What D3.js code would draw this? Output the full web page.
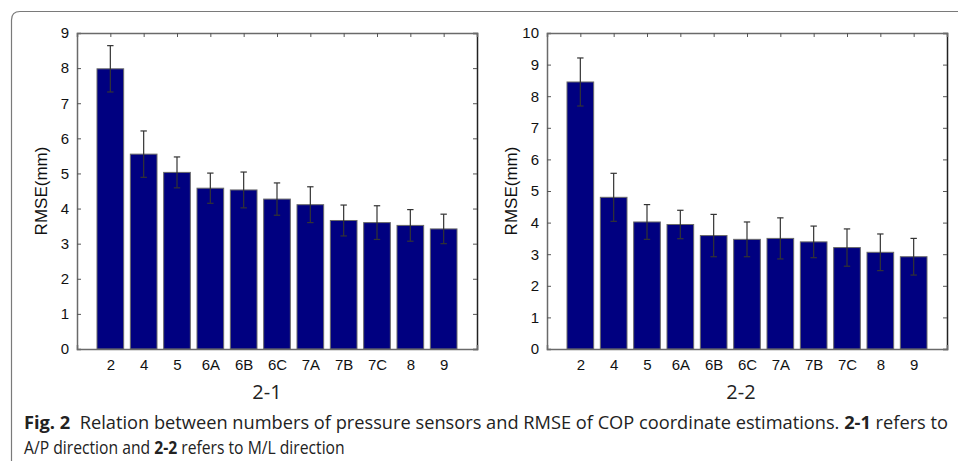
<!DOCTYPE html>
<html>
<head>
<meta charset="utf-8">
<script src="https://cdn.jsdelivr.net/npm/d3@7"></script>
<style>
  html, body { margin: 0; padding: 0; background: #fff; }
  svg { display: block; }
</style>
</head>
<body>
<svg id="chart" width="958" height="461"></svg>
<script>
// ---------- data ----------
const categories = ["2", "4", "5", "6A", "6B", "6C", "7A", "7B", "7C", "8", "9"];
const apValues = [7.98, 5.55, 5.03, 4.58, 4.53, 4.27, 4.11, 3.66, 3.60, 3.52, 3.42];
const apErrors = [0.66, 0.66, 0.44, 0.43, 0.51, 0.46, 0.51, 0.44, 0.48, 0.45, 0.42];
const mlValues = [8.45, 4.80, 4.02, 3.94, 3.59, 3.47, 3.50, 3.39, 3.21, 3.06, 2.92];
const mlErrors = [0.76, 0.76, 0.55, 0.45, 0.67, 0.55, 0.65, 0.50, 0.59, 0.58, 0.58];
const apTicks = [0, 1, 2, 3, 4, 5, 6, 7, 8, 9];
const mlTicks = [0, 1, 2, 3, 4, 5, 6, 7, 8, 9, 10];
const yLabel = "RMSE(mm)";
const panelTitles = ["2-1", "2-2"];

const svg = d3.select("#chart");

// frame (top + left with rounded corner)
svg.append("path")
  .attr("d", "M11.5,461 L11.5,20 Q11.5,11.5 20,11.5 L958,11.5")
  .attr("fill", "none").attr("stroke", "#7a7a7a").attr("stroke-width", 1.2);

function panel(cfg) {
  const g = svg.append("g");
  const x = d3.scalePoint().domain(categories).range([cfg.left, cfg.left + 400]).padding(1);
  const step = x.step();
  const bw = step * 0.8;
  const y = d3.scaleLinear().domain([0, cfg.yMax]).range([349, 33]);

  // bars
  g.selectAll("rect.bar").data(cfg.values).enter().append("rect")
    .attr("x", (d, i) => x(categories[i]) - bw / 2)
    .attr("y", d => y(d))
    .attr("width", bw)
    .attr("height", d => y(0) - y(d))
    .attr("fill", "#000080")
    .attr("stroke", "#6a6a6a").attr("stroke-width", 1);

  // error bars
  const eb = g.selectAll("g.err").data(cfg.values).enter().append("g");
  eb.append("line")
    .attr("x1", (d, i) => x(categories[i])).attr("x2", (d, i) => x(categories[i]))
    .attr("y1", (d, i) => y(d + cfg.errors[i])).attr("y2", (d, i) => y(d - cfg.errors[i]))
    .attr("stroke", "#333").attr("stroke-width", 1.2);
  [1, -1].forEach(s => {
    eb.append("line")
      .attr("x1", (d, i) => x(categories[i]) - 3.2).attr("x2", (d, i) => x(categories[i]) + 3.2)
      .attr("y1", (d, i) => y(d + s * cfg.errors[i])).attr("y2", (d, i) => y(d + s * cfg.errors[i]))
      .attr("stroke", "#333").attr("stroke-width", 1.2);
  });

  // axes (MATLAB-like box with inward ticks)
  const font = "'Liberation Sans', Arial, sans-serif";
  const left = d3.axisLeft(y).tickValues(cfg.ticks).tickSize(-4).tickPadding(8).tickFormat(d3.format("d"));
  const right = d3.axisRight(y).tickValues(cfg.ticks).tickSize(-4).tickFormat("");
  const bottom = d3.axisBottom(x).tickSize(-4).tickPadding(10);
  const top = d3.axisTop(x).tickSize(-4).tickFormat("");

  const ga = g.append("g").attr("transform", `translate(${cfg.left},0)`).call(left);
  const gr = g.append("g").attr("transform", `translate(${cfg.left + 400},0)`).call(right);
  const gb = g.append("g").attr("transform", `translate(0,349)`).call(bottom);
  const gt = g.append("g").attr("transform", `translate(0,33)`).call(top);
  [ga, gr, gb, gt].forEach(a => {
    a.select(".domain").attr("stroke", "#6a6a6a").attr("stroke-width", 1.5);
    a.selectAll(".tick line").attr("stroke", "#555").attr("stroke-width", 1);
    a.selectAll("text").attr("font-family", font).attr("font-size", 15).attr("fill", "#111");
  });
  gb.selectAll(".tick line").remove();
  gr.select(".domain").attr("stroke", "#222");

  // y label
  g.append("text")
    .attr("transform", `translate(${cfg.labelX},191) rotate(-90)`)
    .attr("text-anchor", "middle").attr("dominant-baseline", "central")
    .attr("font-family", font).attr("font-size", 17).attr("fill", "#111")
    .text(yLabel);

  // panel title
  g.append("text")
    .attr("x", cfg.titleX).attr("y", 399)
    .attr("text-anchor", "middle")
    .attr("font-family", "'Open Sans', sans-serif").attr("font-size", 20).attr("fill", "#222")
    .text(cfg.title);
}

panel({ left: 77, yMax: 9, ticks: apTicks, values: apValues, errors: apErrors, labelX: 41, titleX: 267, title: panelTitles[0] });
panel({ left: 547, yMax: 10, ticks: mlTicks, values: mlValues, errors: mlErrors, labelX: 511, titleX: 741, title: panelTitles[1] });

// caption
function captionLine(parts, yPos, targetWidth) {
  const t = svg.append("text")
    .attr("x", 0).attr("y", 0)
    .attr("font-family", "'Open Sans', sans-serif").attr("font-size", 17.5).attr("fill", "#222");
  parts.forEach(p => {
    t.append("tspan").attr("font-weight", p.b ? "bold" : "normal").text(p.t);
  });
  const w = t.node().getComputedTextLength();
  const sx = targetWidth / w;
  t.attr("transform", `translate(24,${yPos}) scale(${sx},1)`);
}
captionLine([
  { t: "Fig. 2", b: true },
  { t: "\u00a0 Relation between numbers of pressure sensors and RMSE of COP coordinate estimations. " },
  { t: "2-1", b: true },
  { t: " refers to" }
], 429, 925);
captionLine([
  { t: "A/P direction and " },
  { t: "2-2", b: true },
  { t: " refers to M/L direction" }
], 454, 321);
</script>
</body>
</html>
